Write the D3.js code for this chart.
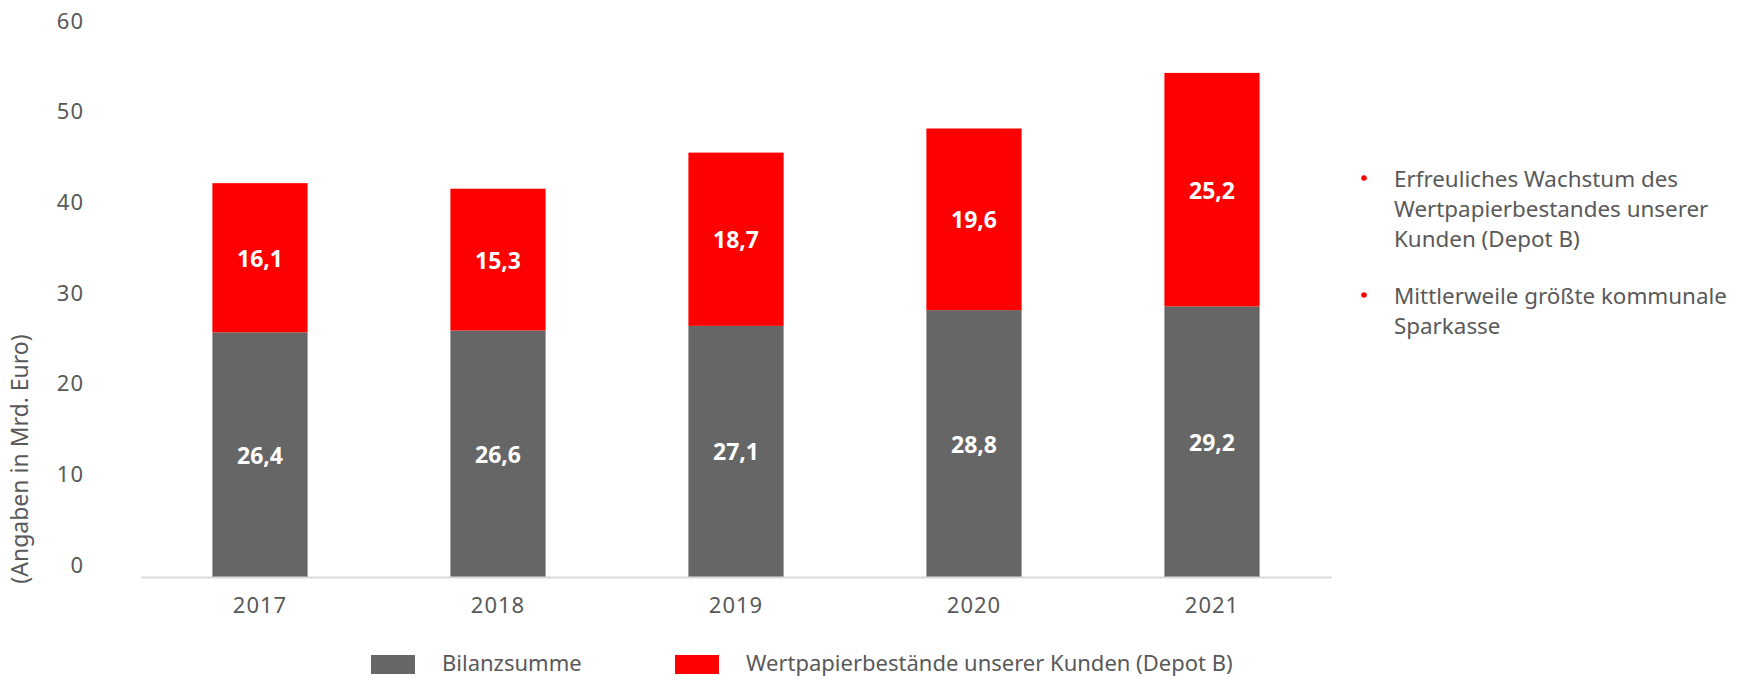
<!DOCTYPE html>
<html lang="de">
<head>
  <meta charset="UTF-8">
  <title>Bilanzsumme und Depot B</title>
  <script src="https://d3js.org/d3.v7.min.js"></script>
  <style>
    body { margin: 0; background: #fff; }
    svg text { font-family: "Noto Sans", "Open Sans", sans-serif; }
  </style>
</head>
<body>
<div id="chart"></div>
<script>
  // Data (Angaben in Mrd. Euro)
  const years = ['2017', '2018', '2019', '2020', '2021'];
  const bilanzsumme = [26.4, 26.6, 27.1, 28.8, 29.2];
  const depotB = [16.1, 15.3, 18.7, 19.6, 25.2];
  const yTicks = [0, 10, 20, 30, 40, 50, 60];
  const seriesNames = ['Bilanzsumme', 'Wertpapierbestände unserer Kunden (Depot B)'];
  const notes = [
    ['Erfreuliches Wachstum des', 'Wertpapierbestandes unserer', 'Kunden (Depot B)'],
    ['Mittlerweile größte kommunale', 'Sparkasse']
  ];

  const W = 1746, H = 679;
  const grey = '#666666', red = '#ff0000', textCol = '#595959';

  const svg = d3.select('#chart').append('svg')
    .attr('width', W)
    .attr('height', H);

  const x = d3.scaleBand()
    .domain(years)
    .range([141, 1331])
    .paddingInner(0.6)
    .paddingOuter(0.3);

  const y = d3.scaleLinear().domain([0, 60]).range([577, 21]);
  // tick labels in the original sit slightly tighter than the bars
  const yLab = y.copy().range([565, 21]);

  // y axis labels only
  const yAxis = svg.append('g')
    .attr('transform', 'translate(84,0)')
    .call(d3.axisLeft(yLab).tickValues(yTicks).tickSize(0).tickPadding(0));
  yAxis.select('.domain').remove();
  yAxis.selectAll('text')
    .attr('fill', textCol)
    .style('font-size', '22px')
    .style('letter-spacing', '1px');

  // axis title
  svg.append('text')
    .attr('transform', 'translate(19,459) rotate(-90)')
    .attr('text-anchor', 'middle')
    .attr('dominant-baseline', 'central')
    .attr('fill', textCol)
    .style('font-size', '23px')
    .text('(Angaben in Mrd. Euro)');

  const rows = years.map((yr, i) => ({ year: yr, a: bilanzsumme[i], b: depotB[i] }));

  // lower segments
  svg.selectAll('.bar-a')
    .data(rows)
    .enter().append('rect')
    .attr('class', 'bar-a')
    .attr('x', d => x(d.year))
    .attr('width', x.bandwidth())
    .attr('y', d => y(d.a))
    .attr('height', d => y(0) - y(d.a))
    .attr('fill', grey);

  // upper segments
  svg.selectAll('.bar-b')
    .data(rows)
    .enter().append('rect')
    .attr('class', 'bar-b')
    .attr('x', d => x(d.year))
    .attr('width', x.bandwidth())
    .attr('y', d => y(d.a + d.b))
    .attr('height', d => y(d.a) - y(d.a + d.b))
    .attr('fill', red);

  const fmt = v => v.toFixed(1).replace('.', ',');

  svg.selectAll('.lab-a')
    .data(rows)
    .enter().append('text')
    .attr('x', d => x(d.year) + x.bandwidth() / 2)
    .attr('y', d => (y(0) + y(d.a)) / 2)
    .attr('text-anchor', 'middle')
    .attr('dominant-baseline', 'central')
    .attr('fill', '#fff')
    .style('font-size', '23px')
    .style('font-weight', 'bold')
    .text(d => fmt(d.a));

  svg.selectAll('.lab-b')
    .data(rows)
    .enter().append('text')
    .attr('x', d => x(d.year) + x.bandwidth() / 2)
    .attr('y', d => (y(d.a) + y(d.a + d.b)) / 2)
    .attr('text-anchor', 'middle')
    .attr('dominant-baseline', 'central')
    .attr('fill', '#fff')
    .style('font-size', '23px')
    .style('font-weight', 'bold')
    .text(d => fmt(d.b));

  // x axis
  const xAxis = svg.append('g')
    .attr('transform', `translate(0,${y(0)})`)
    .call(d3.axisBottom(x).tickSize(0).tickPadding(20));
  xAxis.select('.domain')
    .attr('stroke', '#d9d9d9')
    .attr('stroke-width', 2);
  xAxis.selectAll('text')
    .attr('fill', textCol)
    .style('font-size', '22px')
    .style('letter-spacing', '1px');

  // legend
  const legend = svg.append('g');
  const legX = [371, 675];
  seriesNames.forEach((name, i) => {
    legend.append('rect')
      .attr('x', legX[i]).attr('y', 655)
      .attr('width', 44).attr('height', 19)
      .attr('fill', i === 0 ? grey : red);
    legend.append('text')
      .attr('x', legX[i] + 71).attr('y', 662)
      .attr('dominant-baseline', 'central')
      .attr('fill', textCol)
      .style('font-size', '22px')
      .text(name);
  });

  // notes on the right
  const noteTop = [178, 295];
  notes.forEach((lines, i) => {
    svg.append('circle')
      .attr('cx', 1364).attr('cy', noteTop[i])
      .attr('r', 2.8).attr('fill', red);
    lines.forEach((ln, j) => {
      svg.append('text')
        .attr('x', 1394).attr('y', noteTop[i] + j * 30)
        .attr('dominant-baseline', 'central')
        .attr('fill', textCol)
        .style('font-size', '22.4px')
        .text(ln);
    });
  });
</script>
</body>
</html>
